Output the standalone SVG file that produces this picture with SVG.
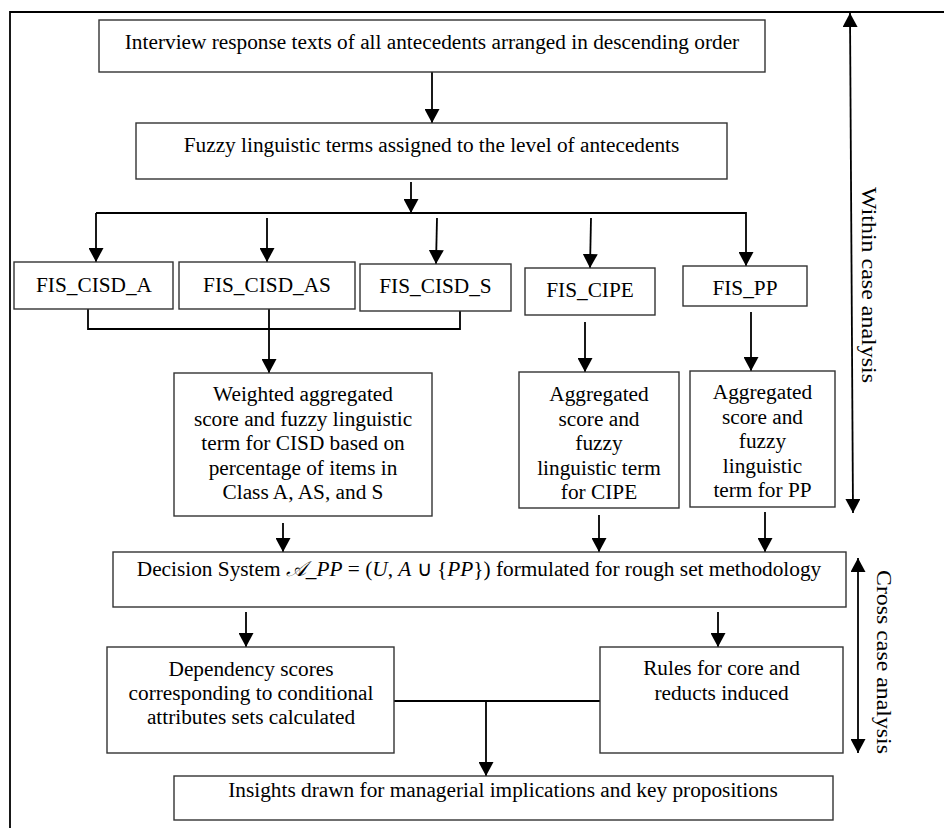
<svg xmlns="http://www.w3.org/2000/svg" width="944" height="828" viewBox="0 0 944 828">
<defs>
<marker id="ah" markerUnits="userSpaceOnUse" markerWidth="15" markerHeight="15" refX="14" refY="7.5" orient="auto">
<path d="M0,0 L14,7.5 L0,15 z" fill="#000"/>
</marker>
<marker id="ahs" markerUnits="userSpaceOnUse" markerWidth="15" markerHeight="15" refX="1" refY="7.5" orient="auto">
<path d="M15,0 L1,7.5 L15,15 z" fill="#000"/>
</marker>
<style>
.box{fill:#fff;stroke:#333;stroke-width:1.4}
.t{font-family:"Liberation Serif","Times New Roman",serif;font-size:21.3px;fill:#000;text-anchor:middle}
.c{fill:none;stroke:#000;stroke-width:1.8}
.a{fill:none;stroke:#000;stroke-width:1.8;marker-end:url(#ah)}
.m{font-style:italic}
</style>
</defs>
<rect width="944" height="828" fill="#fff"/>
<path d="M10,828 V12 H944" fill="none" stroke="#000" stroke-width="1.8"/>

<g id="connectors">
<line class="a" x1="432" y1="72" x2="432" y2="123"/>
<line class="a" x1="411" y1="182" x2="411" y2="213"/>
<line class="c" x1="96" y1="213" x2="746" y2="213" stroke-width="2.4"/>
<line class="a" x1="96" y1="213" x2="96" y2="262"/>
<line class="a" x1="267" y1="218" x2="267" y2="262"/>
<line class="a" x1="437" y1="218" x2="436" y2="264"/>
<line class="a" x1="591" y1="218" x2="590" y2="268"/>
<line class="a" x1="746" y1="212" x2="746" y2="266"/>
<path class="c" d="M88,309 V329 H460 V311"/>
<line class="a" x1="269" y1="309" x2="269" y2="373"/>
<line class="a" x1="585" y1="322" x2="585" y2="372"/>
<line class="a" x1="751" y1="312" x2="751" y2="371"/>
<line class="a" x1="283" y1="523" x2="283" y2="552"/>
<line class="a" x1="599" y1="515" x2="599" y2="552"/>
<line class="a" x1="765" y1="512" x2="765" y2="552"/>
<line class="a" x1="246" y1="612" x2="246" y2="647"/>
<line class="a" x1="718" y1="612" x2="718" y2="647"/>
<line class="c" x1="394" y1="701" x2="600" y2="701"/>
<line class="a" x1="486" y1="701" x2="486" y2="776"/>
<line class="a" x1="850" y1="13" x2="853" y2="513" style="marker-start:url(#ahs)" stroke-width="1.6"/>
<line class="a" x1="858" y1="558" x2="858" y2="753" style="marker-start:url(#ahs)" stroke-width="1.6"/>
</g>

<g id="n-interview">
<rect class="box" x="99" y="20" width="666" height="52"/>
<text class="t" x="432" y="49">Interview response texts of all antecedents arranged in descending order</text>
</g>
<g id="n-fuzzy">
<rect class="box" x="136" y="123" width="591" height="56"/>
<text class="t" x="431.5" y="152">Fuzzy linguistic terms assigned to the level of antecedents</text>
</g>
<g id="n-fis-cisd-a">
<rect class="box" x="14" y="262" width="159" height="47"/>
<text class="t" x="94" y="292">FIS_CISD_A</text>
</g>
<g id="n-fis-cisd-as">
<rect class="box" x="179" y="262" width="176" height="47"/>
<text class="t" x="267" y="292">FIS_CISD_AS</text>
</g>
<g id="n-fis-cisd-s">
<rect class="box" x="360" y="264" width="151" height="47"/>
<text class="t" x="435.5" y="293">FIS_CISD_S</text>
</g>
<g id="n-fis-cipe">
<rect class="box" x="525" y="268" width="130" height="47"/>
<text class="t" x="590" y="297">FIS_CIPE</text>
</g>
<g id="n-fis-pp">
<rect class="box" x="683" y="266" width="124" height="40"/>
<text class="t" x="745" y="295">FIS_PP</text>
</g>
<g id="n-weighted">
<rect class="box" x="174" y="373" width="258" height="143"/>
<text class="t" x="303" y="401">Weighted aggregated</text>
<text class="t" x="303" y="425.5">score and fuzzy linguistic</text>
<text class="t" x="303" y="450">term for CISD based on</text>
<text class="t" x="303" y="474.5">percentage of items in</text>
<text class="t" x="303" y="499">Class A, AS, and S</text>
</g>
<g id="n-agg-cipe">
<rect class="box" x="519" y="372" width="160" height="136"/>
<text class="t" x="599" y="401">Aggregated</text>
<text class="t" x="599" y="425.5">score and</text>
<text class="t" x="599" y="450">fuzzy</text>
<text class="t" x="599" y="474.5">linguistic term</text>
<text class="t" x="599" y="499">for CIPE</text>
</g>
<g id="n-agg-pp">
<rect class="box" x="690" y="371" width="145" height="136"/>
<text class="t" x="762.5" y="399">Aggregated</text>
<text class="t" x="762.5" y="423.5">score and</text>
<text class="t" x="762.5" y="448">fuzzy</text>
<text class="t" x="762.5" y="472.5">linguistic</text>
<text class="t" x="762.5" y="497">term for PP</text>
</g>
<g id="n-decision">
<rect class="box" x="113" y="552" width="733" height="55"/>
<text class="t" x="479" y="576">Decision System <tspan class="m">𝒜</tspan>_<tspan class="m">PP</tspan> = (<tspan class="m">U</tspan>, <tspan class="m">A</tspan> ∪ {<tspan class="m">PP</tspan>}) formulated for rough set methodology</text>
</g>
<g id="n-dependency">
<rect class="box" x="107" y="647" width="287" height="106"/>
<text class="t" x="251" y="676">Dependency scores</text>
<text class="t" x="251" y="700">corresponding to conditional</text>
<text class="t" x="251" y="724">attributes sets calculated</text>
</g>
<g id="n-rules">
<rect class="box" x="600" y="647" width="243" height="106"/>
<text class="t" x="721.5" y="675">Rules for core and</text>
<text class="t" x="721.5" y="700">reducts induced</text>
</g>
<g id="n-insights">
<rect class="box" x="174" y="776" width="659" height="44"/>
<text class="t" x="503" y="797">Insights drawn for managerial implications and key propositions</text>
</g>
<g id="l-within">
<text class="t" style="text-anchor:start" transform="translate(862,187) rotate(90)" textLength="196" lengthAdjust="spacingAndGlyphs">Within case analysis</text>
</g>
<g id="l-cross">
<text class="t" style="text-anchor:start" transform="translate(877,570) rotate(90)" textLength="184" lengthAdjust="spacingAndGlyphs">Cross case analysis</text>
</g>
</svg>
